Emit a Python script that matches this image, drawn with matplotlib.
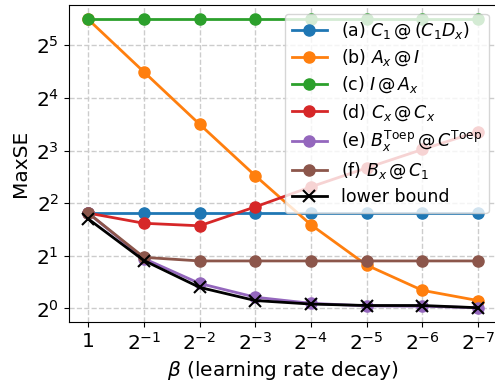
import matplotlib
matplotlib.use("Agg")
import matplotlib.pyplot as plt
import numpy as np

# learning rate decay exponents (beta = 2^-k)
decay_exp = [0, 1, 2, 3, 4, 5, 6, 7]
beta = [2.0 ** (-k) for k in decay_exp]
xtick_labels = ["1"] + [f"$2^{{-{k}}}$" for k in decay_exp[1:]]

# MaxSE per factorization
maxse_a = [3.51, 3.51, 3.51, 3.51, 3.51, 3.51, 3.51, 3.51]
maxse_b = [44.9, 22.5, 11.3, 5.74, 3.01, 1.77, 1.27, 1.11]
maxse_c = [44.9, 44.9, 44.9, 44.9, 44.9, 44.9, 44.9, 44.9]
maxse_d = [3.51, 3.07, 2.97, 3.81, 4.96, 6.36, 8.11, 10.27]
maxse_e = [3.51, 1.93, 1.39, 1.16, 1.07, 1.035, 1.03, 1.01]
maxse_f = [3.51, 1.96, 1.87, 1.87, 1.87, 1.87, 1.87, 1.87]
lower_bound = [3.25, 1.88, 1.32, 1.11, 1.06, 1.04, 1.04, 1.01]

labels = [
    r"(a) $C_1\,@\,(C_1D_x)$",
    r"(b) $A_x\,@\,I$",
    r"(c) $I\,@\,A_x$",
    r"(d) $C_x\,@\,C_x$",
    r"(e) $B_x^{\mathrm{Toep}}\,@\,C^{\mathrm{Toep}}$",
    r"(f) $B_x\,@\,C_1$",
]
series = [maxse_a, maxse_b, maxse_c, maxse_d, maxse_e, maxse_f]
colors = ["#1f77b4", "#ff7f0e", "#2ca02c", "#d62728", "#9467bd", "#8c564b"]

plt.rcParams["font.size"] = 14.5

fig = plt.figure(figsize=(4.95, 3.9), dpi=100)
ax = fig.add_axes([0.139, 0.174, 0.866, 0.813])

for vals, lab, col in zip(series, labels, colors):
    ax.plot(beta, vals, "-o", color=col, label=lab, lw=2, ms=8)
ax.plot(beta, lower_bound, "-x", color="black", label="lower bound",
        lw=2, ms=8, mew=1.5)

ax.set_xscale("log", base=2)
ax.set_yscale("log", base=2)
ax.invert_xaxis()
ax.set_xticks(beta)
ax.set_xticklabels(xtick_labels)
ax.minorticks_off()
yt = [2.0 ** k for k in range(6)]
ax.set_yticks(yt)
ax.set_yticklabels([f"$2^{{{k}}}$" for k in range(6)])

ax.grid(True, ls="--", color="#cccccc", lw=1)
ax.set_xlabel(r"$\beta$ (learning rate decay)")
ax.set_ylabel("MaxSE")
ax.legend(loc="upper right", fontsize=12.5, handlelength=2.0,
          labelspacing=0.38, borderaxespad=0.5)

fig.savefig("out.png", dpi=100)
